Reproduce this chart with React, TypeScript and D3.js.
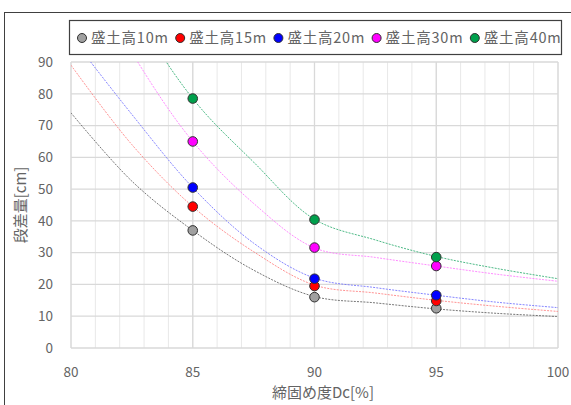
import React from "react";
import * as d3 from "d3";

// ---- data ----
const seriesNames = ["盛土高10m", "盛土高15m", "盛土高20m", "盛土高30m", "盛土高40m"];
const dcMeasured = [85, 90, 95];
const meas10 = [37, 16, 12.5];
const meas15 = [44.5, 19.5, 14.8];
const meas20 = [50.5, 21.8, 16.6];
const meas30 = [65, 31.6, 25.8];
const meas40 = [78.5, 40.4, 28.6];

const curveDc = [80, 82.5, 85, 87.5, 90, 92.5, 95, 97.5, 100];
const curve10 = [74, 52.5, 37, 24.5, 16.2, 14.2, 12.3, 10.9, 9.9];
const curve15 = [89, 64, 44.5, 30.3, 19.8, 17.3, 15, 13.1, 11.5];
const curve20 = [98, 73.5, 50.5, 33, 22, 19, 16.6, 14.4, 12.7];
const curve30 = [128, 93, 65, 45.5, 31.5, 28.5, 25.8, 23.2, 21];
const curve40 = [150, 108, 78.5, 58.5, 40.5, 34, 28.8, 25, 21.8];

const xTicks = [80, 85, 90, 95, 100];
const yTicks = [0, 10, 20, 30, 40, 50, 60, 70, 80, 90];
const xLabel = "締固め度Dc[%]";
const yLabel = "段差量[cm]";

const markerColors = ["#a0a0a0", "#ff0000", "#0000ff", "#ff00ff", "#00a04c"];
const lineColors = ["#555555", "#ff7878", "#6868ff", "#ff70ff", "#20a868"];

const measured = [meas10, meas15, meas20, meas30, meas40];
const curves = [curve10, curve15, curve20, curve30, curve40];

export default function App() {
  const W = 571, H = 405;
  const left = 71, right = 558, top = 62, bottom = 348;
  const x = d3.scaleLinear().domain([80, 100]).range([left, right]);
  const y = d3.scaleLinear().domain([0, 90]).range([bottom, top]);
  const minor = d3.range(80, 101, 1);
  const font = "'Noto Sans CJK JP', 'Noto Sans', sans-serif";
  const textColor = "#646464";
  const line = d3
    .line<number>()
    .x((_, i) => x(curveDc[i]))
    .y((d) => y(d))
    .curve(d3.curveCatmullRom.alpha(0.5));

  const legendX0 = 82;
  const legendStep = 98.2;

  return (
    <svg
      width={W}
      height={H}
      style={{ position: "absolute", left: 0, top: 0, background: "#fff" }}
      fontFamily={font}
    >
      <defs>
        <clipPath id="plotclip">
          <rect x={left} y={top} width={right - left} height={bottom - top} />
        </clipPath>
      </defs>
      {/* outer frame */}
      <rect x={4.5} y={12.5} width={W + 10} height={H + 10} fill="none" stroke="#404040" strokeWidth={1} />

      {/* minor vertical grid */}
      {minor.map((v) => (
        <line key={"mv" + v} x1={x(v)} x2={x(v)} y1={top} y2={bottom} stroke="#e8e8e8" strokeWidth={1} />
      ))}
      {/* major vertical grid */}
      {xTicks.map((v) => (
        <line key={"Mv" + v} x1={x(v)} x2={x(v)} y1={top} y2={bottom} stroke="#d9d9d9" strokeWidth={1.3} />
      ))}
      {/* horizontal grid */}
      {yTicks.map((v) => (
        <line key={"h" + v} x1={left} x2={right} y1={y(v)} y2={y(v)} stroke="#d9d9d9" strokeWidth={1.3} />
      ))}

      {/* curves */}
      <g clipPath="url(#plotclip)">
        {curves.map((c, i) => (
          <path
            key={"c" + i}
            d={line(c) || ""}
            fill="none"
            stroke={lineColors[i]}
            strokeWidth={1}
            strokeOpacity={0.8}
            strokeDasharray="2 1.2"
          />
        ))}
      </g>

      {/* markers */}
      {measured.map((m, i) =>
        m.map((v, j) => (
          <circle
            key={"m" + i + "-" + j}
            cx={x(dcMeasured[j])}
            cy={y(v)}
            r={4.8}
            fill={markerColors[i]}
            stroke="#303030"
            strokeWidth={1}
          />
        ))
      )}

      {/* y tick labels */}
      {yTicks.map((v) => (
        <text key={"yt" + v} x={53} y={y(v)} dy="0.35em" textAnchor="end" fontSize={13.5} fill={textColor}>
          {v}
        </text>
      ))}
      {/* x tick labels */}
      {xTicks.map((v) => (
        <text key={"xt" + v} x={x(v)} y={372} dy="0.35em" textAnchor="middle" fontSize={13.5} fill={textColor}>
          {v}
        </text>
      ))}
      <text x={323} y={393} dy="0.35em" textAnchor="middle" fontSize={15} fill={textColor}>
        {xLabel}
      </text>
      <text
        transform={`translate(21, ${(top + bottom) / 2}) rotate(-90)`}
        textAnchor="middle"
        dy="0.35em"
        fontSize={15}
        fill={textColor}
      >
        {yLabel}
      </text>

      {/* legend */}
      <rect x={69.5} y={20.5} width={492} height={34} fill="#fff" stroke="#404040" strokeWidth={1.2} />
      {seriesNames.map((s, i) => (
        <g key={"lg" + i} transform={`translate(${legendX0 + i * legendStep}, 38)`}>
          <circle cx={0} cy={0} r={4.5} fill={markerColors[i]} stroke="#303030" strokeWidth={1} />
          <text x={9} y={0} dy="0.35em" fontSize={14.5} fill={textColor} textLength={77} lengthAdjust="spacing">
            {s}
          </text>
        </g>
      ))}
    </svg>
  );
}
